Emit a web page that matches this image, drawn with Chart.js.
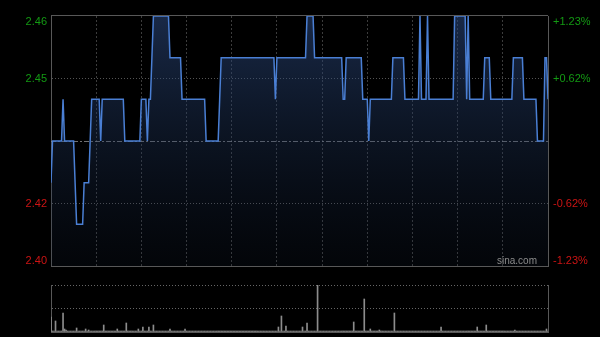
<!DOCTYPE html>
<html>
<head>
<meta charset="utf-8">
<script src="https://cdn.jsdelivr.net/npm/chart.js@4/dist/chart.umd.min.js"></script>
<style>
  html, body { margin: 0; padding: 0; background: #000; }
  #wrap { position: relative; width: 600px; height: 337px; overflow: hidden; }
  #priceChart { position: absolute; left: 0; top: 0; }
  #volChart { position: absolute; left: 0; top: 278px; }
</style>
</head>
<body>
<div id="wrap">
  <canvas id="priceChart" width="600" height="282"></canvas>
  <canvas id="volChart" width="600" height="59"></canvas>
</div>
<script>
// previous close and axis ticks
const prevClose = 2.43;
const priceTicks = [2.40, 2.415, 2.43, 2.445, 2.46];
const priceLabels = ['2.40', '2.42', '', '2.45', '2.46'];
const pctLabels = ['-1.23%', '-0.62%', '', '+0.62%', '+1.23%'];
const volTicks = [0, 23.5, 47];

// one value per minute, 09:30 .. 16:00 (lunch break skipped)
const prices = [
  2.42, 2.43, 2.43, 2.43, 2.43, 2.43, 2.43, 2.43, 2.44, 2.43,
  2.43, 2.43, 2.43, 2.43, 2.43, 2.43, 2.42, 2.41, 2.41, 2.41,
  2.41, 2.41, 2.42, 2.42, 2.42, 2.42, 2.43, 2.44, 2.44, 2.44,
  2.44, 2.44, 2.44, 2.43, 2.44, 2.44, 2.44, 2.44, 2.44, 2.44,
  2.44, 2.44, 2.44, 2.44, 2.44, 2.44, 2.44, 2.44, 2.44, 2.43,
  2.43, 2.43, 2.43, 2.43, 2.43, 2.43, 2.43, 2.43, 2.43, 2.43,
  2.44, 2.44, 2.44, 2.44, 2.43, 2.44, 2.44, 2.45, 2.46, 2.46,
  2.46, 2.46, 2.46, 2.46, 2.46, 2.46, 2.46, 2.46, 2.46, 2.45,
  2.45, 2.45, 2.45, 2.45, 2.45, 2.45, 2.45, 2.44, 2.44, 2.44,
  2.44, 2.44, 2.44, 2.44, 2.44, 2.44, 2.44, 2.44, 2.44, 2.44,
  2.44, 2.44, 2.44, 2.43, 2.43, 2.43, 2.43, 2.43, 2.43, 2.43,
  2.43, 2.43, 2.44, 2.45, 2.45, 2.45, 2.45, 2.45, 2.45, 2.45,
  2.45, 2.45, 2.45, 2.45, 2.45, 2.45, 2.45, 2.45, 2.45, 2.45,
  2.45, 2.45, 2.45, 2.45, 2.45, 2.45, 2.45, 2.45, 2.45, 2.45,
  2.45, 2.45, 2.45, 2.45, 2.45, 2.45, 2.45, 2.45, 2.45, 2.44,
  2.45, 2.45, 2.45, 2.45, 2.45, 2.45, 2.45, 2.45, 2.45, 2.45,
  2.45, 2.45, 2.45, 2.45, 2.45, 2.45, 2.45, 2.45, 2.45, 2.45,
  2.46, 2.46, 2.46, 2.46, 2.46, 2.45, 2.45, 2.45, 2.45, 2.45,
  2.45, 2.45, 2.45, 2.45, 2.45, 2.45, 2.45, 2.45, 2.45, 2.45,
  2.45, 2.45, 2.45, 2.45, 2.44, 2.44, 2.45, 2.45, 2.45, 2.45,
  2.45, 2.45, 2.45, 2.45, 2.45, 2.45, 2.45, 2.44, 2.44, 2.44,
  2.44, 2.43, 2.44, 2.44, 2.44, 2.44, 2.44, 2.44, 2.44, 2.44,
  2.44, 2.44, 2.44, 2.44, 2.44, 2.44, 2.44, 2.45, 2.45, 2.45,
  2.45, 2.45, 2.45, 2.45, 2.45, 2.44, 2.44, 2.44, 2.44, 2.44,
  2.44, 2.44, 2.44, 2.44, 2.44, 2.46, 2.44, 2.44, 2.44, 2.44,
  2.46, 2.44, 2.44, 2.44, 2.44, 2.44, 2.44, 2.44, 2.44, 2.44,
  2.44, 2.44, 2.44, 2.44, 2.44, 2.44, 2.44, 2.44, 2.46, 2.46,
  2.46, 2.46, 2.46, 2.46, 2.46, 2.46, 2.44, 2.46, 2.44, 2.44,
  2.44, 2.44, 2.44, 2.44, 2.44, 2.44, 2.44, 2.44, 2.45, 2.45,
  2.45, 2.45, 2.44, 2.44, 2.44, 2.44, 2.44, 2.44, 2.44, 2.44,
  2.44, 2.44, 2.44, 2.44, 2.44, 2.44, 2.44, 2.45, 2.45, 2.45,
  2.45, 2.45, 2.45, 2.45, 2.44, 2.44, 2.44, 2.44, 2.44, 2.44,
  2.44, 2.44, 2.44, 2.43, 2.43, 2.43, 2.43, 2.43, 2.45, 2.45,
  2.44
];

// volume per minute (relative)
const volumes = [
  15, 1, 1, 11, 1, 1, 1, 1, 19, 3,
  2, 1, 1, 1, 1, 1, 1, 4, 1, 1,
  1, 1, 1, 3, 1, 2, 1, 1, 1, 1,
  1, 1, 1, 1, 1, 7, 1, 1, 1, 1,
  1, 1, 1, 1, 3, 1, 1, 1, 1, 1,
  9, 1, 1, 1, 1, 1, 1, 1, 3, 1,
  1, 5, 1, 1, 1, 5, 1, 1, 7, 1,
  1, 1, 1, 1, 1, 1, 1, 1, 1, 3,
  1, 1, 1, 1, 1, 1, 1, 1, 1, 3,
  1, 1, 1, 1, 1, 1, 1, 1, 1, 1,
  1, 1, 1, 1, 1, 1, 1, 1, 1, 1,
  1, 1, 1, 1, 1, 1, 1, 1, 1, 1,
  1, 1, 1, 1, 1, 1, 1, 1, 1, 1,
  1, 1, 1, 1, 1, 1, 1, 1, 1, 1,
  1, 1, 1, 1, 1, 1, 1, 1, 1, 1,
  1, 5, 1, 16, 1, 1, 6, 1, 1, 1,
  1, 1, 1, 1, 1, 1, 1, 5, 1, 1,
  9, 1, 1, 1, 1, 1, 1, 47, 1, 1,
  1, 1, 1, 1, 1, 1, 1, 1, 1, 1,
  1, 1, 1, 1, 1, 1, 1, 1, 1, 1,
  1, 10, 1, 1, 1, 1, 1, 1, 33, 1,
  1, 1, 3, 1, 1, 1, 1, 1, 2, 1,
  1, 1, 1, 1, 1, 1, 1, 1, 19, 1,
  1, 1, 1, 1, 1, 1, 1, 1, 1, 1,
  1, 1, 1, 1, 1, 1, 1, 1, 1, 1,
  1, 1, 1, 1, 1, 1, 1, 1, 1, 5,
  1, 1, 1, 1, 1, 1, 1, 1, 1, 1,
  1, 1, 1, 1, 1, 1, 1, 1, 1, 1,
  1, 1, 1, 5, 1, 1, 1, 1, 1, 7,
  1, 1, 1, 1, 1, 1, 1, 1, 1, 1,
  1, 1, 1, 1, 1, 1, 1, 1, 2, 1,
  1, 1, 1, 1, 1, 1, 1, 1, 1, 1,
  1, 1, 1, 1, 1, 1, 1, 1, 1, 3,
  1
];

const green = '#139a13';
const red = '#cc1414';
const frameColor = '#585858';
const clear = 'rgba(0,0,0,0)';
const labelFont = { family: 'Arial, "Liberation Sans", sans-serif', size: 11, lineHeight: 1 };

// prev-close line, top edge and watermark
const framePlugin = {
  id: 'framePlugin',
  beforeDatasetsDraw(chart) {
    const { ctx, chartArea: a, scales: { y } } = chart;
    const yMid = Math.round(y.getPixelForValue(prevClose)) + 0.5;
    ctx.save();
    ctx.strokeStyle = 'rgba(150,150,150,0.75)';
    ctx.lineWidth = 1;
    ctx.setLineDash([5, 2, 2, 2]);
    ctx.beginPath();
    ctx.moveTo(a.left, yMid);
    ctx.lineTo(a.right, yMid);
    ctx.stroke();
    ctx.restore();
  },
  afterDatasetsDraw(chart) {
    const { ctx, chartArea: a } = chart;
    ctx.save();
    ctx.strokeStyle = frameColor;
    ctx.lineWidth = 1;
    ctx.beginPath();
    ctx.moveTo(a.left, a.top - 0.5);
    ctx.lineTo(a.right, a.top - 0.5);
    ctx.stroke();
    ctx.font = '10px Arial, "Liberation Sans", sans-serif';
    ctx.fillStyle = '#8c8c8c';
    ctx.textAlign = 'right';
    ctx.textBaseline = 'alphabetic';
    ctx.fillText('sina.com', a.right - 11, a.bottom - 2);
    ctx.restore();
  }
};

const setPriceTicks = s => { s.ticks = priceTicks.map(v => ({ value: v })); };
const edgeLabel = (text, i) => i === 4 ? ['', text] : (i === 0 ? [text, ''] : text);
const noHeight = s => { s.height = 0; };

new Chart(document.getElementById('priceChart').getContext('2d'), {
  type: 'line',
  data: {
    datasets: [{
      data: prices.map((p, i) => ({ x: i, y: p })),
      borderColor: '#4a7fd4',
      borderWidth: 1.5,
      pointRadius: 0,
      tension: 0,
      fill: 'start',
      backgroundColor: (c) => {
        const a = c.chart.chartArea;
        if (!a) return 'rgba(30,50,90,0.3)';
        const g = c.chart.ctx.createLinearGradient(0, a.top, 0, a.bottom);
        g.addColorStop(0, 'rgba(45,75,130,0.55)');
        g.addColorStop(1, 'rgba(20,35,60,0.15)');
        return g;
      }
    }]
  },
  options: {
    responsive: false,
    animation: false,
    layout: { padding: { top: 14, bottom: 9, left: 0, right: 0 } },
    plugins: { legend: { display: false }, tooltip: { enabled: false } },
    scales: {
      x: {
        type: 'linear', min: 0, max: 330,
        afterFit: noHeight,
        ticks: { display: false, stepSize: 30 },
        grid: {
          drawTicks: false,
          color: c => (c.tick.value === 0 || c.tick.value === 330) ? clear : 'rgba(120,120,120,0.5)'
        },
        border: { display: true, color: frameColor, dash: [2, 2] }
      },
      y: {
        position: 'left', min: 2.40, max: 2.46,
        afterBuildTicks: setPriceTicks,
        afterFit: s => { s.width = 51; },
        ticks: {
          padding: 4,
          font: labelFont,
          color: c => c.tick.value > prevClose ? green : red,
          callback: (v, i) => edgeLabel(priceLabels[i], i)
        },
        grid: {
          drawTicks: false,
          color: c => (c.index === 1 || c.index === 3) ? 'rgba(140,140,140,0.6)' : clear
        },
        border: { display: true, color: frameColor, dash: [1, 2] }
      },
      y2: {
        position: 'right', min: 2.40, max: 2.46,
        afterBuildTicks: setPriceTicks,
        afterFit: s => { s.width = 52; },
        ticks: {
          padding: 5,
          font: labelFont,
          color: c => c.tick.value > prevClose ? green : red,
          callback: (v, i) => edgeLabel(pctLabels[i], i)
        },
        grid: { display: false, drawTicks: false },
        border: { display: true, color: frameColor }
      }
    }
  },
  plugins: [framePlugin]
});

new Chart(document.getElementById('volChart').getContext('2d'), {
  type: 'bar',
  data: {
    datasets: [{
      data: volumes.map((v, i) => ({ x: i, y: v })),
      backgroundColor: '#8c8c8c',
      barThickness: 1,
      borderWidth: 0
    }]
  },
  options: {
    responsive: false,
    animation: false,
    layout: { padding: { top: 7, bottom: 5, left: 0, right: 0 } },
    plugins: { legend: { display: false }, tooltip: { enabled: false } },
    scales: {
      x: {
        type: 'linear', min: 0, max: 330, offset: false,
        afterFit: noHeight,
        ticks: { display: false },
        grid: { display: false, drawTicks: false },
        border: { display: true, color: frameColor }
      },
      y: {
        min: 0, max: 47,
        afterBuildTicks: s => { s.ticks = volTicks.map(v => ({ value: v })); },
        afterFit: s => { s.width = 51; },
        ticks: { display: false },
        grid: {
          drawTicks: false,
          color: c => c.index === 0 ? clear : 'rgba(170,170,170,0.6)'
        },
        border: { display: true, color: frameColor, dash: [1, 2] }
      },
      y2: {
        position: 'right', min: 0, max: 47,
        afterFit: s => { s.width = 52; },
        ticks: { display: false },
        grid: { display: false, drawTicks: false },
        border: { display: true, color: frameColor }
      }
    }
  }
});
</script>
</body>
</html>
